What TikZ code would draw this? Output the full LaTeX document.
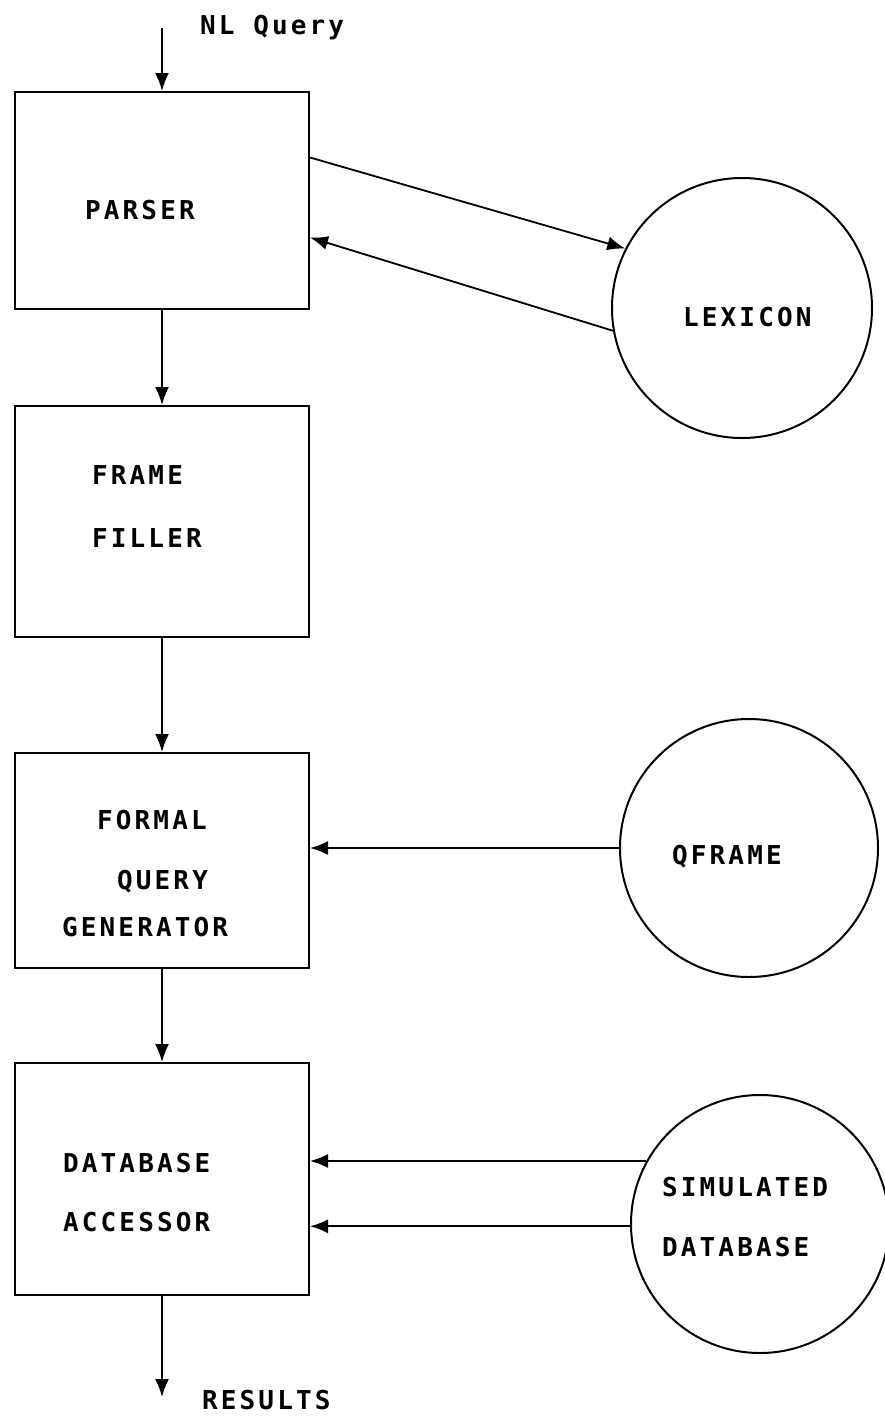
\documentclass[tikz,border=0pt]{standalone}
\usepackage{fontspec}
\usepackage{tikz}
\usetikzlibrary{arrows.meta}
\newfontfamily\typefont{DejaVu Sans Mono}[LetterSpace=12]
\tikzset{
  block/.style={rectangle,draw=black,line width=2pt,minimum width=294pt,inner sep=0pt},
  store/.style={circle,draw=black,line width=2pt,inner sep=0pt},
  arc/.style={-{Latex[length=18pt,width=14pt]},line width=1.8pt},
  lbl/.style={font={\typefont\bfseries\fontsize{26pt}{30pt}\selectfont},inner sep=0pt,anchor=base west}
}
\begin{document}
\begin{tikzpicture}[x=1pt,y=-1pt]
  \useasboundingbox (0,0) rectangle (884,1417);

  \node[block,minimum height=217pt] (parser) at (162,200.5) {};
  \node[block,minimum height=231pt] (frame)  at (162,521.5) {};
  \node[block,minimum height=215pt] (formal) at (162,860.5) {};
  \node[block,minimum height=232pt] (dbacc)  at (162,1179) {};

  \node[store,minimum size=260pt] (lexicon) at (742,308) {};
  \node[store,minimum size=258pt] (qframe)  at (749,848) {};
  \node[store,minimum size=258pt] (simdb)   at (760,1224) {};

  \node[lbl] (nltext)    at (200,34)   {NL Query};
  \node[lbl] (partext)   at (85,219)   {PARSER};
  \node[lbl] (frametext) at (92,484)   {FRAME};
  \node[lbl] (filltext)  at (92,547)   {FILLER};
  \node[lbl] (formtext)  at (97,829)   {FORMAL};
  \node[lbl] (querytext) at (117,889)  {QUERY};
  \node[lbl] (gentext)   at (62,936)   {GENERATOR};
  \node[lbl] (dbtext)    at (63,1172)  {DATABASE};
  \node[lbl] (acctext)   at (63,1231)  {ACCESSOR};
  \node[lbl] (restext)   at (202,1409) {RESULTS};
  \node[lbl] (lextext)   at (683,326)  {LEXICON};
  \node[lbl] (qftext)    at (672,864)  {QFRAME};
  \node[lbl] (simtext)   at (662,1196) {SIMULATED};
  \node[lbl] (sdbtext)   at (662,1256) {DATABASE};

  \coordinate (nlin)   at (162,28);
  \coordinate (resout) at (162,1397);

  \draw[arc] (nlin) -- (parser);
  \draw[arc] (parser) -- (frame);
  \draw[arc] (frame) -- (formal);
  \draw[arc] (formal) -- (dbacc);
  \draw[arc] (dbacc) -- (resout);

  \draw[arc] ([yshift=43pt]parser.east) -- (lexicon.153);
  \draw[arc] (lexicon.190) -- ([yshift=-37pt]parser.east);
  \draw[arc] (qframe.west) -- (qframe.west -| formal.east);
  \draw[arc] (simdb.151) -- (simdb.151 -| dbacc.east);
  \draw[arc] (simdb.181) -- (simdb.181 -| dbacc.east);
\end{tikzpicture}
\end{document}
